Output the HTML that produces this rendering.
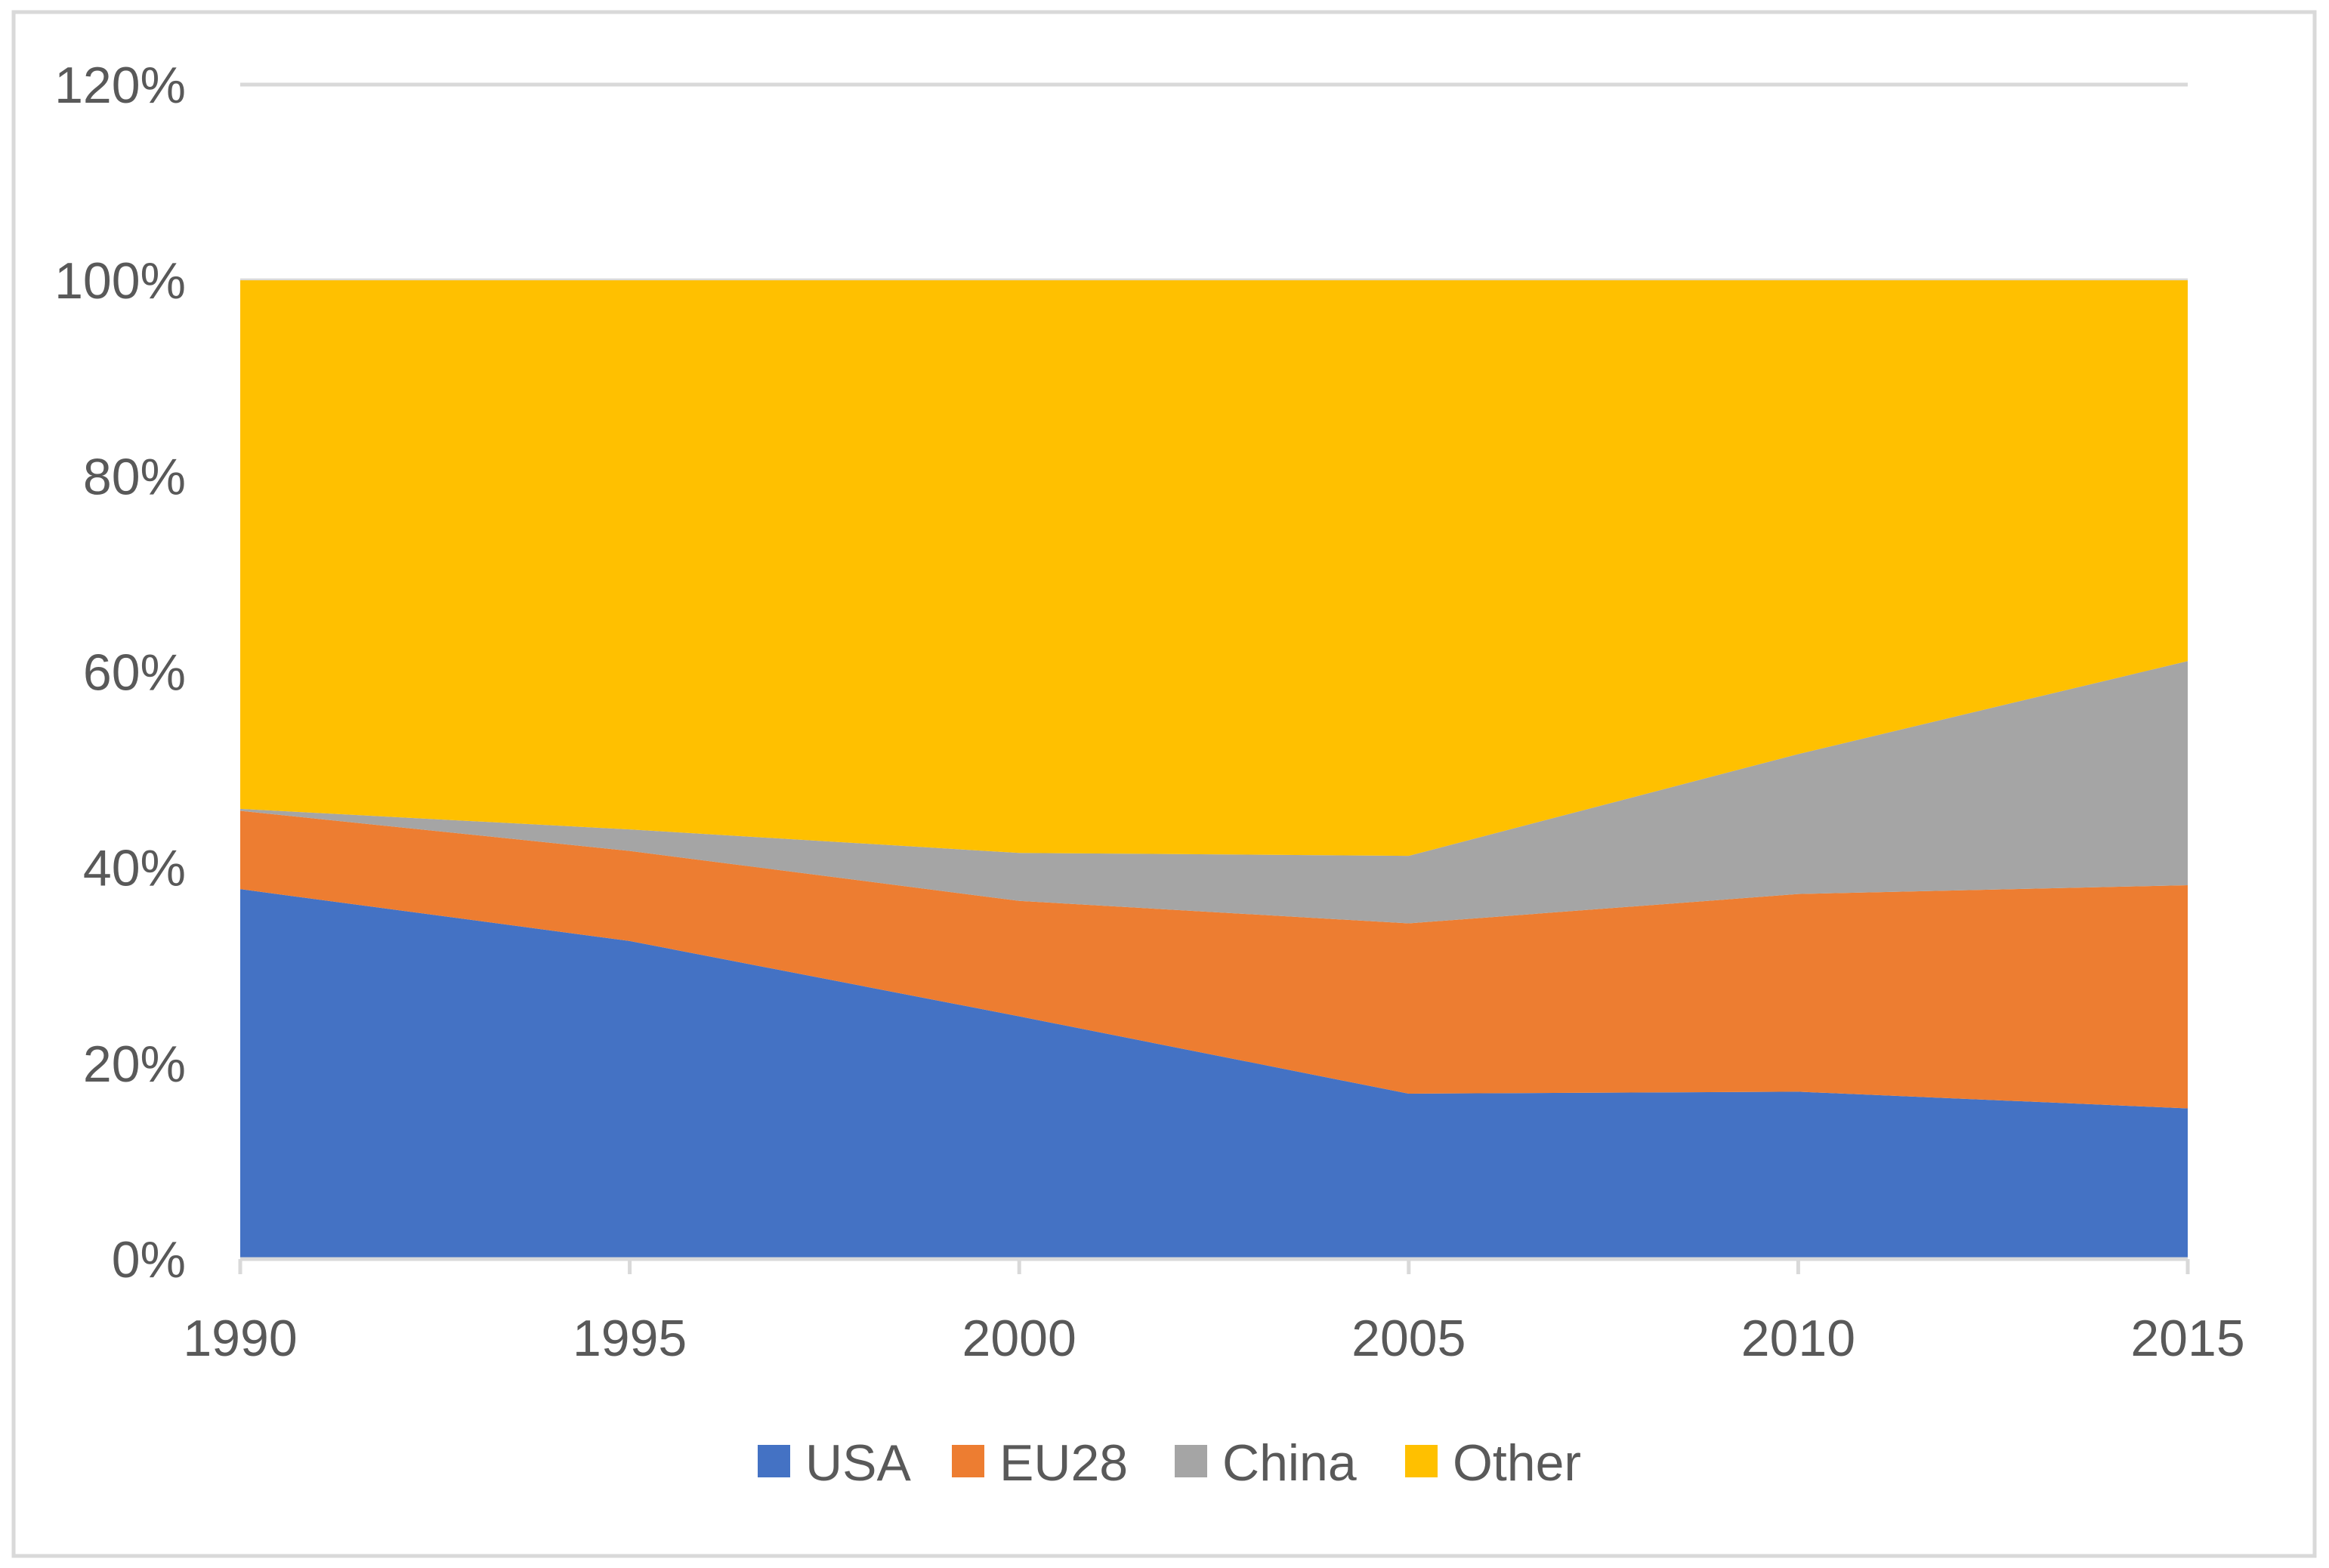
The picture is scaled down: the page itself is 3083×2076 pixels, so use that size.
<!DOCTYPE html>
<html><head><meta charset="utf-8"><style>
html,body{margin:0;padding:0;background:#fff}
svg{display:block}
text{font-family:"Liberation Sans",sans-serif;fill:#595959}
</style></head><body>
<svg id="chart" width="3083" height="2076" viewBox="0 0 3083 2076">
<rect x="18" y="16" width="3046" height="2044" fill="#fff" stroke="#d9d9d9" stroke-width="5"/>
<g id="grid"></g><g id="areas"></g><g id="axes"></g><g id="legend"></g>
</svg>
<script>
const years = ["1990","1995","2000","2005","2010","2015"];
const usa = [37.8, 32.5, 24.8, 16.9, 17.1, 15.4];
const eu28 = [8.0, 9.2, 11.8, 17.4, 20.2, 22.8];
const china = [0.2, 2.2, 4.9, 6.9, 14.3, 22.9];
const other = [54.0, 56.1, 58.5, 58.8, 48.4, 38.9];
const yTicks = [0, 20, 40, 60, 80, 100, 120];
const yTickLabels = ["0%","20%","40%","60%","80%","100%","120%"];
const seriesNames = ["USA","EU28","China","Other"];

const NS = "http://www.w3.org/2000/svg";
const L = 318, R = 2896, T = 112, B = 1667;
const xS = i => L + (R - L) * i / (years.length - 1);
const yS = v => B - (B - T) * v / 120;
function mk(tag, attrs, parent) { const e = document.createElementNS(NS, tag); for (const k in attrs) e.setAttribute(k, attrs[k]); parent.appendChild(e); return e; }
const grid = document.getElementById('grid'), areas = document.getElementById('areas'), axes = document.getElementById('axes'), legend = document.getElementById('legend');

yTicks.forEach((t, i) => {
  if (t > 0) {
    const g = mk('line', {x1: L, x2: R, y1: yS(t), y2: yS(t), stroke: '#d9d9d9', 'stroke-width': 5}, grid);
    
    
  }
  const tx = mk('text', {x: 246, y: yS(t) + 24, 'text-anchor': 'end', 'font-size': 68}, axes);
  tx.textContent = yTickLabels[i];
  
  
});

const series = [usa, eu28, china, other];
const colors = ['#4472c4', '#ed7d31', '#a5a5a5', '#ffc000'];
let base = years.map(() => 0);
series.forEach((s, si) => {
  const top = base.map((b, i) => b + s[i]);
  let d = 'M' + years.map((_, i) => xS(i) + ',' + yS(top[i])).join(' L');
  for (let i = years.length - 1; i >= 0; i--) d += ' L' + xS(i) + ',' + yS(base[i]);
  const p = mk('path', {d: d + ' Z', fill: colors[si]}, areas);
  
  
  base = top;
});

const ax = mk('line', {x1: L, x2: R, y1: B, y2: B, stroke: '#d9d9d9', 'stroke-width': 5}, axes);


years.forEach((y, i) => {
  const tk = mk('line', {x1: xS(i), x2: xS(i), y1: B, y2: B + 20, stroke: '#d9d9d9', 'stroke-width': 5}, axes);
  
  
  const tx = mk('text', {x: xS(i), y: 1795, 'text-anchor': 'middle', 'font-size': 68}, axes);
  tx.textContent = y;
  
  
});

const legX = [1003, 1260, 1555, 1860];
seriesNames.forEach((n, i) => {
  const g = mk('g', {}, legend);
  
  
  mk('rect', {x: legX[i], y: 1913, width: 43, height: 43, fill: colors[i]}, g);
  const t = mk('text', {x: legX[i] + 63, y: 1960, 'font-size': 68}, g);
  t.textContent = n;
});
</script>
</body></html>
